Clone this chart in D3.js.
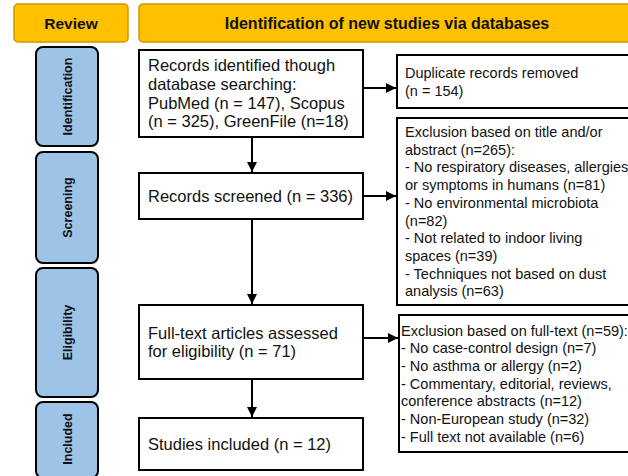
<!DOCTYPE html>
<html>
<head>
<meta charset="utf-8">
<script src="https://cdn.jsdelivr.net/npm/d3@7"></script>
<style>
  body { margin: 0; background: #fff; }
  svg { display: block; font-family: Arial, "Liberation Sans", sans-serif; }
</style>
</head>
<body>
<div id="chart"></div>
<script>
// Text content of the PRISMA flow diagram
const headers = ["Review", "Identification of new studies via databases"];
const stages = ["Identification", "Screening", "Eligibility", "Included"];
const mainBoxes = [
    ["Records identified though", "database searching:", "PubMed (n = 147), Scopus", "(n = 325), GreenFile (n=18)"],
    ["Records screened (n = 336)"],
    ["Full-text articles assessed", "for eligibility (n = 71)"],
    ["Studies included (n = 12)"]
];
const sideBoxes = [
    ["Duplicate records removed", "(n = 154)"],
    ["Exclusion based on title and/or", "abstract (n=265):", "- No respiratory diseases, allergies",
     "or symptoms in humans (n=81)", "- No environmental microbiota", "(n=82)",
     "- Not related to indoor living", "spaces (n=39)", "- Techniques not based on dust", "analysis (n=63)"],
    ["Exclusion based on full-text (n=59):", "- No case-control design (n=7)", "- No asthma or allergy (n=2)",
     "- Commentary, editorial, reviews,", "conference abstracts (n=12)", "- Non-European study (n=32)",
     "- Full text not available (n=6)"]
];

// Layout (pixel geometry)
const width = 628, height = 476;
const stageY = [[47, 146], [152, 263], [268, 397], [402, 478]];
const mainY = [[50, 137], [173, 219], [305, 379], [418, 470]];
const sideY = [[55, 108], [118, 305], [315, 452]];
const sideX = [397, 397, 399];
const sideTextX = [405, 405, 401];
const sideArrowY = [88, 196, 338];

const svg = d3.select("#chart")
    .append("svg")
    .attr("width", width)
    .attr("height", height);

svg.append("defs").append("marker")
    .attr("id", "arrow")
    .attr("viewBox", "0 0 10 10")
    .attr("refX", 10)
    .attr("refY", 5)
    .attr("markerWidth", 10)
    .attr("markerHeight", 10)
    .attr("markerUnits", "userSpaceOnUse")
    .attr("orient", "auto")
    .append("path")
    .attr("d", "M0,0 L10,5 L0,10 Z")
    .attr("fill", "#000");

// Gold header bars
const headerX = [[14, 128], [139, 640]];
const hdr = svg.selectAll(".header")
    .data(headers)
    .enter()
    .append("g")
    .attr("class", "header");

hdr.append("rect")
    .attr("x", (d, i) => headerX[i][0])
    .attr("y", 4)
    .attr("width", (d, i) => headerX[i][1] - headerX[i][0])
    .attr("height", 38)
    .attr("rx", 4)
    .attr("fill", "#FFC000")
    .attr("stroke", "#C99A00")
    .attr("stroke-width", 1.5);

hdr.append("text")
    .attr("x", (d, i) => i === 0 ? 71 : 387)
    .attr("y", 23)
    .attr("dy", "0.36em")
    .attr("text-anchor", "middle")
    .attr("font-size", (d, i) => i === 0 ? 15.5 : 16)
    .attr("font-weight", "bold")
    .attr("fill", "#111")
    .text(d => d);

// Blue stage labels on the left
const stg = svg.selectAll(".stage")
    .data(stages)
    .enter()
    .append("g")
    .attr("class", "stage");

stg.append("rect")
    .attr("x", 36)
    .attr("y", (d, i) => stageY[i][0])
    .attr("width", 62)
    .attr("height", (d, i) => stageY[i][1] - stageY[i][0])
    .attr("rx", 7)
    .attr("fill", "#9DC3E6")
    .attr("stroke", "#000")
    .attr("stroke-width", 2);

stg.append("text")
    .attr("transform", (d, i) => `translate(67, ${(stageY[i][0] + Math.min(stageY[i][1], 476)) / 2}) rotate(-90)`)
    .attr("dy", "0.36em")
    .attr("text-anchor", "middle")
    .attr("font-size", 12.5)
    .attr("font-weight", "bold")
    .attr("fill", "#111")
    .text(d => d);

// Draws a multi-line text box
function drawBox(x0, x1, y0, y1, lines, textX, fontSize, lineH) {
    svg.append("rect")
        .attr("x", x0)
        .attr("y", y0)
        .attr("width", x1 - x0)
        .attr("height", y1 - y0)
        .attr("fill", "#fff")
        .attr("stroke", "#000")
        .attr("stroke-width", 2);
    const mid = (y0 + y1) / 2;
    const start = mid - (lines.length - 1) * lineH / 2;
    svg.append("g")
        .selectAll("text")
        .data(lines)
        .enter()
        .append("text")
        .attr("x", textX)
        .attr("y", (d, i) => start + i * lineH)
        .attr("dy", "0.36em")
        .attr("font-size", fontSize)
        .attr("fill", "#111")
        .text(d => d);
}

mainBoxes.forEach((lines, i) => {
    drawBox(139, 363, mainY[i][0], mainY[i][1], lines, 148, 16.5, 18.7);
});

sideBoxes.forEach((lines, i) => {
    drawBox(sideX[i], 640, sideY[i][0], sideY[i][1], lines, sideTextX[i], 14.5, 17.7);
});

// Vertical arrows between main boxes
for (let i = 0; i < mainY.length - 1; i++) {
    svg.append("line")
        .attr("x1", 252)
        .attr("x2", 252)
        .attr("y1", mainY[i][1])
        .attr("y2", mainY[i + 1][0] - 1)
        .attr("stroke", "#000")
        .attr("stroke-width", 2)
        .attr("marker-end", "url(#arrow)");
}

// Horizontal arrows to exclusion boxes
sideBoxes.forEach((d, i) => {
    svg.append("line")
        .attr("x1", 363)
        .attr("x2", sideX[i] - 1)
        .attr("y1", sideArrowY[i])
        .attr("y2", sideArrowY[i])
        .attr("stroke", "#000")
        .attr("stroke-width", 2)
        .attr("marker-end", "url(#arrow)");
});
</script>
</body>
</html>
